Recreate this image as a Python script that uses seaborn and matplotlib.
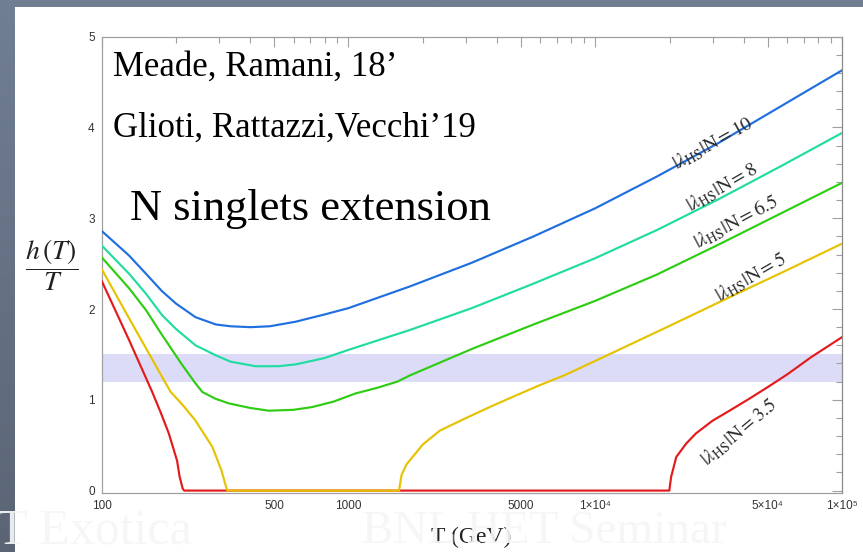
import numpy as np
import pandas as pd
import matplotlib
matplotlib.use("Agg")
import matplotlib.pyplot as plt
import matplotlib.colors as mcolors
import seaborn as sns
from matplotlib.patches import Rectangle
from matplotlib.ticker import FixedLocator, FixedFormatter, LogLocator, MultipleLocator, NullFormatter

# |lambda_HS|/N values and the h(T)/T curves for each of them
couplings = ["3.5", "5", "6.5", "8", "10"]
line_colors = ["#e41a1a", "#e6c200", "#2fcc14", "#20dca0", "#1f6fe0"]

T_l35 = [100, 129, 160, 174, 187, 202, 207, 213, 216, 19960, 20300, 21300, 23400, 25600,
         29900, 35000, 42000, 50000, 60000, 75000, 100000]
h_l35 = [2.31, 1.66, 1.09, 0.85, 0.63, 0.33, 0.15, 0.02, 0.0, 0.0, 0.15, 0.37, 0.52, 0.63,
         0.77, 0.88, 1.01, 1.14, 1.28, 1.47, 1.69]

T_l5 = [100, 129, 151, 175, 190, 215, 240, 281, 306, 316, 323, 1603, 1640, 1720, 2005,
        2344, 3000, 3735, 4700, 5945, 7500, 10400, 19500, 36300, 60000, 100000]
h_l5 = [2.44, 1.90, 1.57, 1.26, 1.09, 0.93, 0.77, 0.48, 0.22, 0.08, 0.0, 0.0, 0.17, 0.29,
        0.51, 0.66, 0.80, 0.92, 1.04, 1.16, 1.27, 1.45, 1.80, 2.15, 2.43, 2.72]

T_l65 = [100, 129, 151, 176, 210, 240, 256, 290, 328, 400, 475, 600, 713, 870, 1068, 1300,
         1577, 1778, 3162, 5623, 10000, 17783, 31623, 56234, 100000]
h_l65 = [2.57, 2.23, 1.99, 1.71, 1.40, 1.18, 1.085, 1.01, 0.96, 0.91, 0.88, 0.89, 0.92,
         0.98, 1.07, 1.13, 1.20, 1.27, 1.56, 1.83, 2.09, 2.38, 2.71, 3.05, 3.39]

T_l8 = [100, 129, 151, 176, 200, 240, 290, 333, 420, 520, 611, 800, 1000, 1778, 3162, 5623,
        10000, 17783, 31623, 56234, 100000]
h_l8 = [2.70, 2.39, 2.17, 1.93, 1.78, 1.60, 1.49, 1.42, 1.37, 1.37, 1.39, 1.46, 1.55, 1.77,
        2.01, 2.28, 2.56, 2.87, 3.21, 3.57, 3.94]

T_l10 = [100, 129, 151, 175, 200, 240, 290, 333, 400, 480, 610, 800, 1000, 1778, 3162, 5623,
         10000, 17783, 31623, 56234, 100000]
h_l10 = [2.86, 2.59, 2.39, 2.20, 2.06, 1.91, 1.83, 1.81, 1.80, 1.81, 1.86, 1.94, 2.01, 2.25,
         2.51, 2.80, 3.11, 3.46, 3.83, 4.23, 4.63]

band_low, band_high = 1.2, 1.5

x_ticks = [100, 500, 1000, 5000, 1e4, 5e4, 1e5]
x_tick_labels = ["100", "500", "1000", "5000", "1\u00d710\u2074", "5\u00d710\u2074", "1\u00d710\u2075"]
y_ticks = [0, 1, 2, 3, 4, 5]

series_T = [T_l35, T_l5, T_l65, T_l8, T_l10]
series_h = [h_l35, h_l5, h_l65, h_l8, h_l10]
frames = []
for lam, Ts, hs in zip(couplings, series_T, series_h):
    frames.append(pd.DataFrame({"T": Ts, "hT": hs, "lam": lam}))
df = pd.concat(frames, ignore_index=True)

sns.set_style("white")
plt.rcParams["font.family"] = ["Liberation Sans", "DejaVu Sans"]
plt.rcParams["mathtext.fontset"] = "stix"

W, H = 863, 552
fig = plt.figure(figsize=(W / 100, H / 100), dpi=100)

# slide background: grey frame with a white content panel
bg = fig.add_axes([0, 0, 1, 1], zorder=-5)
grad = np.linspace(0, 1, 256).reshape(-1, 1)
cmap = mcolors.LinearSegmentedColormap.from_list("slide", ["#717f93", "#5a6475"])
bg.imshow(grad, aspect="auto", extent=[0, 1, 0, 1], cmap=cmap, origin="upper")
bg.add_patch(Rectangle((15 / W, 0), 1, (H - 7) / H, color="white", lw=0))
bg.set_xlim(0, 1)
bg.set_ylim(0, 1)
bg.axis("off")

ax = fig.add_axes([101.7 / W, 1 - 493.3 / H, (842 - 101.7) / W, (493.3 - 36.7) / H])
ax.set_facecolor("none")
ax.axhspan(band_low, band_high, color="#dcdcf8", lw=0, zorder=0)

sns.lineplot(data=df, x="T", y="hT", hue="lam", hue_order=couplings,
             palette=line_colors, sort=False, estimator=None, legend=False,
             linewidth=1.55, ax=ax, zorder=3)

ax.set_xscale("log")
ax.set_xlim(100, 1e5)
ax.set_ylim(-0.03, 5)
ax.xaxis.set_major_locator(FixedLocator(x_ticks))
ax.xaxis.set_major_formatter(FixedFormatter(x_tick_labels))
ax.xaxis.set_minor_locator(LogLocator(base=10, subs=np.arange(2, 10), numticks=20))
ax.xaxis.set_minor_formatter(NullFormatter())
ax.yaxis.set_major_locator(FixedLocator(y_ticks))
ax.yaxis.set_minor_locator(MultipleLocator(0.2))
ax.set_xlabel("")
ax.set_ylabel("")

frame_color = "#a0a0a0"
for s in ax.spines.values():
    s.set_color(frame_color)
    s.set_linewidth(0.9)
ax.spines["right"].set_color("#8a8a8a")
ax.tick_params(which="both", direction="in", top=True, right=True, color=frame_color,
               width=0.8, labelcolor="#333333", labelsize=8.5)
ax.tick_params(which="major", length=7, pad=5)
ax.tick_params(which="minor", length=4)

# curve labels
lab_font = dict(fontsize=14, color="#2a2a2a", ha="center", va="center", rotation_mode="anchor")
ax.text(30100, 3.83, r"$|\lambda_{\mathrm{HS}}|\mathrm{N} = 10$", rotation=29, **lab_font)
ax.text(32700, 3.34, r"$|\lambda_{\mathrm{HS}}|\mathrm{N} = 8$", rotation=30, **lab_font)
ax.text(37300, 2.96, r"$|\lambda_{\mathrm{HS}}|\mathrm{N} = 6.5$", rotation=28, **lab_font)
ax.text(42900, 2.35, r"$|\lambda_{\mathrm{HS}}|\mathrm{N} = 5$", rotation=30, **lab_font)
ax.text(38400, 0.64, r"$|\lambda_{\mathrm{HS}}|\mathrm{N} = 3.5$", rotation=40, **lab_font)

serif = ["Liberation Serif", "DejaVu Serif"]
fig.text(113 / W, 1 - 76 / H, "Meade, Ramani, 18\u2019", family=serif, fontsize=25,
         color="black", ha="left", va="baseline")
fig.text(113 / W, 1 - 137 / H, "Glioti, Rattazzi,Vecchi\u201919", family=serif, fontsize=25,
         color="black", ha="left", va="baseline")
fig.text(130 / W, 1 - 220 / H, "N singlets extension", family=serif, fontsize=32,
         color="black", ha="left", va="baseline")

fig.text(52 / W, 1 - 265 / H, r"$\dfrac{h\,(T)}{T}$", fontsize=20, color="#222222",
         ha="center", va="center")
fig.text(471 / W, 1 - 543 / H, "T (GeV)", family=serif, fontsize=17, color="#222222",
         ha="center", va="baseline", zorder=3)

# footer of the slide
fig.text(-2.5 / W, 1 - 543 / H, "T Exotica", family=serif, fontsize=36, color="#f6f6f6",
         alpha=0.92, ha="left", va="baseline", zorder=6)
fig.text(362 / W, 1 - 543 / H, "BNL HET Seminar", family=serif, fontsize=34, color="#f6f6f6",
         alpha=0.92, ha="left", va="baseline", zorder=6)

fig.savefig("out.png", dpi=100)
